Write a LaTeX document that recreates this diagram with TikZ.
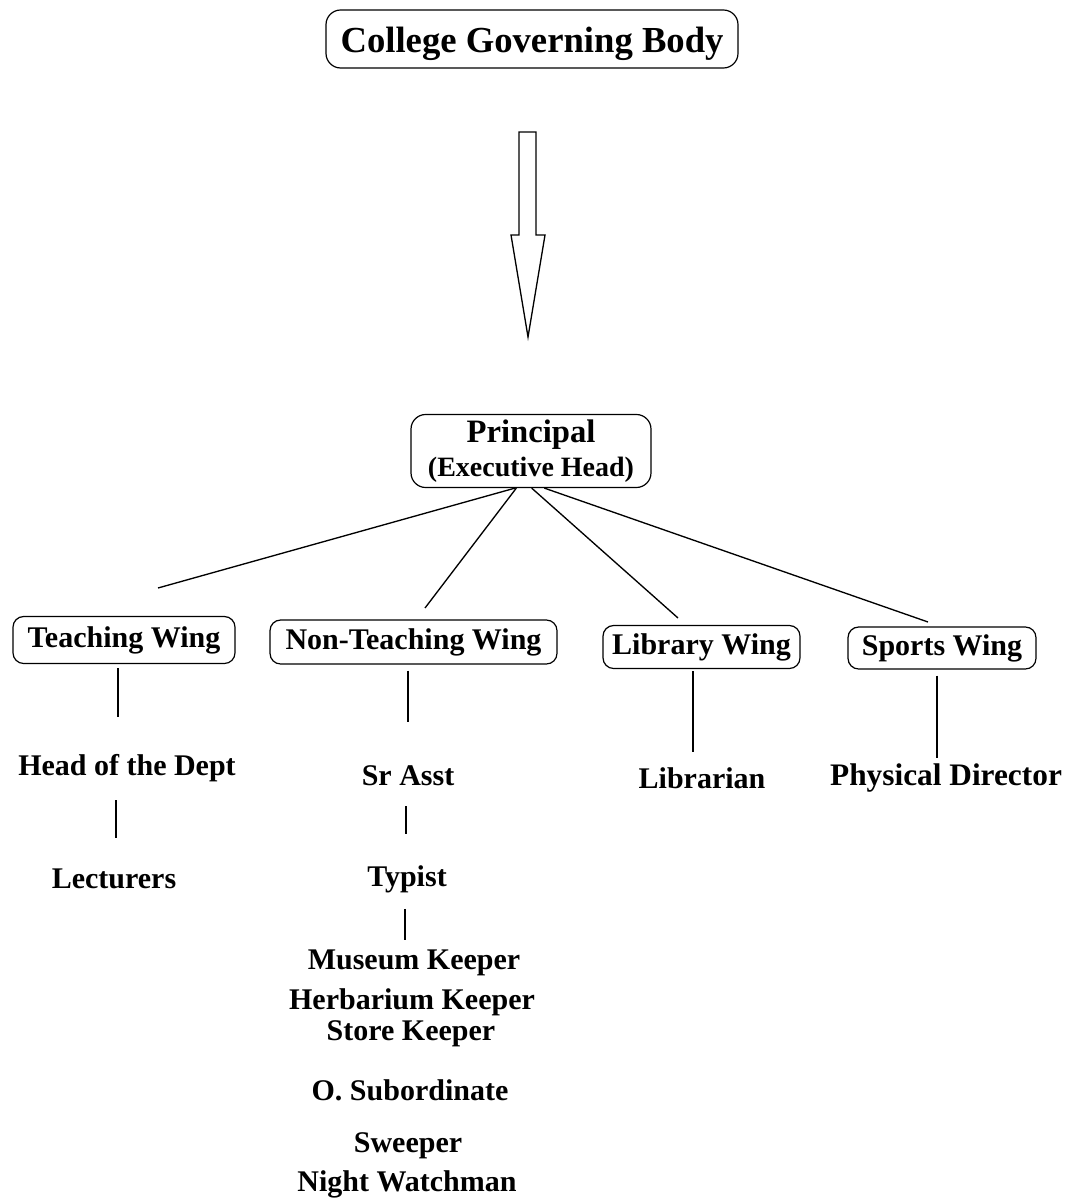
\documentclass[tikz,border=0pt]{standalone}
\usepackage{fontspec}
\setmainfont{Liberation Serif}
\begin{document}
\begin{tikzpicture}[x=0.75pt,y=-0.75pt,
  box/.style={draw,line width=0.9pt,rounded corners=8pt,inner sep=0pt,font=\bfseries\fontsize{22.5}{26}\selectfont},
  lbl/.style={inner sep=0pt,font=\bfseries\fontsize{22.5}{26}\selectfont},
  conn/.style={line width=1pt}]
\useasboundingbox (0,0) rectangle (1071,1201);
% boxes
\node[box,rounded corners=11pt,minimum width=309pt,minimum height=43.5pt,text height=24pt,text depth=4pt,font=\bfseries\fontsize{27.5}{30}\selectfont] (cgb) at (532,39) {College Governing Body};
\node[box,rounded corners=11pt,minimum width=180pt,minimum height=54.75pt,align=center] (pr) at (531,451)
  {{\fontsize{24.5}{24.75}\selectfont Principal}\\[-1pt]{\fontsize{21}{24}\selectfont (Executive Head)}};
\node[box,minimum width=166.5pt,minimum height=35.25pt] (tw) at (124,640) {Teaching Wing};
\node[box,minimum width=215.25pt,minimum height=33pt] (nw) at (413.5,642) {Non-Teaching Wing};
\node[box,minimum width=147.75pt,minimum height=32.25pt] (lw) at (701.5,647) {Library Wing};
\node[box,minimum width=141pt,minimum height=31.5pt] (sw) at (942,648) {Sports Wing};
% labels
\node[lbl] (hod) at (127,768) {Head of the Dept};
\node[lbl] (lec) at (114,879) {Lecturers};
\node[lbl] (sra) at (408,776) {Sr Asst};
\node[lbl] (typ) at (407,879) {Typist};
\node[lbl] (mus) at (414,963) {Museum Keeper};
\node[lbl] (her) at (412,1002) {Herbarium Keeper};
\node[lbl] (sto) at (411,1034) {Store Keeper};
\node[lbl] (osb) at (410,1090) {O. Subordinate};
\node[lbl] (swp) at (408,1146) {Sweeper};
\node[lbl] (nwm) at (407,1184) {Night Watchman};
\node[lbl] (lib) at (702,778) {Librarian};
\node[lbl,font=\bfseries\fontsize{23.5}{26}\selectfont] (phd) at (946,778) {Physical Director};
% hollow block arrow
\draw[line width=1pt,line join=miter] (519,132) -- (536,132) -- (536,235) -- (545,235) -- (528,337) -- (511,235) -- (519,235) -- cycle;
% connectors from principal
\coordinate (e1) at (158,588);
\coordinate (e2) at (425,608);
\coordinate (e3) at (678,618);
\coordinate (e4) at (928,622);
\draw[conn] ([xshift=-12pt]pr.south) -- (e1);
\draw[conn] ([xshift=-11pt]pr.south) -- (e2);
\draw[conn] ([xshift=0.5pt]pr.south) -- (e3);
\draw[conn] ([xshift=10pt]pr.south) -- (e4);
% vertical connectors
\coordinate (t1) at (118,717);
\draw[conn] (tw.south -| t1) ++(0,4) -- (t1);
\coordinate (t2) at (116,838);
\draw[conn] (hod.south -| t2) ++(0,18) -- (t2);
\coordinate (n1) at (408,722);
\draw[conn] (nw.south -| n1) ++(0,6) -- (n1);
\coordinate (n2) at (406,834);
\draw[conn] (sra.south -| n2) ++(0,20) -- (n2);
\coordinate (n3) at (405,940);
\draw[conn] (typ.south -| n3) ++(0,16) -- (n3);
\coordinate (l1) at (693,752);
\draw[conn] (lw.south -| l1) ++(0,2) -- (l1);
\coordinate (s1) at (937,758);
\draw[conn] (sw.south -| s1) ++(0,6) -- (s1);
\end{tikzpicture}
\end{document}
